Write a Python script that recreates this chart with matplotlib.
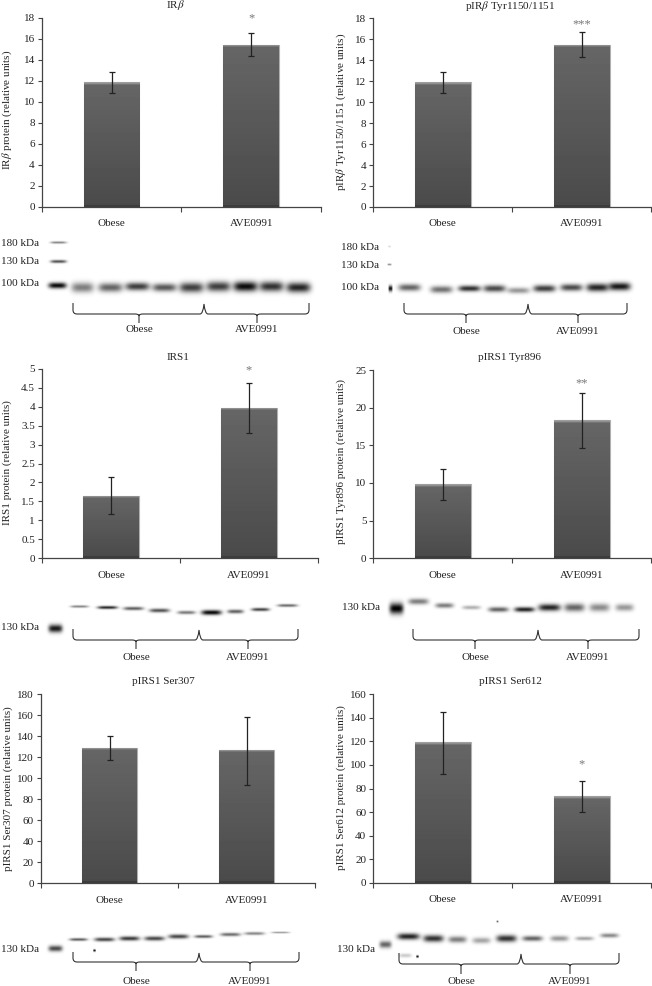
import numpy as np
import matplotlib
matplotlib.use("Agg")
import matplotlib.pyplot as plt
from matplotlib.path import Path
from matplotlib.patches import PathPatch

plt.rcParams['font.family'] = ['Liberation Serif', 'DejaVu Serif']
plt.rcParams['mathtext.fontset'] = 'stix'

W, H = 652, 986
groups = ["Obese", "AVE0991"]

# chart values
titles = ["IR$\\beta$", "pIR$\\beta$ Tyr1150/1151", "IRS1", "pIRS1 Tyr896", "pIRS1 Ser307", "pIRS1 Ser612"]
ylabels = ["IR$\\beta$ protein (relative units)", "pIR$\\beta$ Tyr1150/1151 (relative units)",
           "IRS1 protein (relative units)", "pIRS1 Tyr896 protein (relative units)",
           "pIRS1 Ser307 protein (relative units)", "pIRS1 Ser612 protein (relative units)"]
means = [[11.85, 15.45], [11.9, 15.5], [1.65, 3.97], [9.8, 18.3], [129, 127], [119, 73.5]]
err_hi = [[12.8, 16.55], [12.85, 16.65], [2.13, 4.62], [11.9, 21.9], [140, 158], [145, 86]]
err_lo = [[10.85, 14.35], [10.85, 14.3], [1.17, 3.32], [7.7, 14.7], [117, 94], [92, 60.5]]
ymax = [18, 18, 5, 25, 180, 160]
ystep = [2, 2, 0.5, 5, 20, 20]
stars = [[None, "*"], [None, "***"], [None, "*"], [None, "**"], [None, None], [None, "*"]]
star_y = [17.9, 17.4, 4.97, 23.2, 0, 100.7]

# layout in pixels: left, right, top, bottom of each bar panel
boxes = [(41.7, 321, 17.7, 207), (373.3, 651.3, 18.3, 207),
         (42, 318, 369, 558), (373.3, 651.3, 370, 558.3),
         (41, 315, 694.3, 883.3), (373.3, 651.3, 694, 883)]
title_pos = [(175, 5), (510, 6), (178, 357), (509, 357), (163, 682), (510, 682)]
ylabel_pos = [(7.5, 110), (341, 112), (7, 463), (341, 462), (8, 789), (341, 788)]

# blot bands: x, y, half width, half height, darkness
bands = [
    [(58, 242, 8, 1.2, .45), (58, 261, 8, 1.6, .65), (57, 285, 9, 3, .95),
     (82, 287, 11, 5, .5), (110, 287, 12, 4.5, .6), (137, 286, 12, 4, .75), (164, 287, 12, 4, .65),
     (191, 287, 12, 5, .75), (218, 286, 12, 5, .75), (245, 286, 12, 5, .95), (271, 286, 12, 5, .8), (298, 287, 12, 5, .85)],
    [(389, 246, 1.2, 1, .15), (389, 264, 2, 1, .4), (390, 288, 2, 3, .9),
     (409, 287, 11, 3.5, .6), (441, 289, 11, 3.5, .55), (469, 288, 11, 3, .8), (494, 288, 11, 3.5, .7),
     (518, 290, 11, 3, .4), (544, 288, 11, 3.5, .75), (571, 287, 11, 3.5, .7), (597, 287, 11, 4, .85), (619, 286, 11, 4, .9)],
    [(55, 628, 7, 4, .9),
     (79, 606, 9, 1.3, .45), (107, 607, 10, 1.6, .8), (133, 608, 10, 1.8, .6), (159, 610, 10, 2, .65),
     (186, 612, 9, 1.8, .5), (211, 612, 10, 2.5, .95), (235, 611, 8, 2, .6), (260, 609, 9, 1.7, .7), (287, 605, 10, 1.5, .55)],
    [(396, 608, 7, 5.5, 1),
     (418, 601, 10, 3, .5), (444, 605, 9, 2.5, .5), (471, 607, 9, 2, .3), (498, 609, 10, 2.5, .6),
     (524, 609, 10, 2.5, .85), (549, 607, 11, 3.5, .85), (574, 607, 10, 4, .6), (599, 607, 10, 4, .45), (624, 607, 9, 3.5, .4)],
    [(55, 948, 7, 3, .7),
     (78, 939, 9, 1.5, .6), (104, 939, 10, 2, .7), (129, 938, 10, 2.2, .75), (154, 938, 10, 2.2, .7),
     (178, 936, 10, 2.2, .7), (203, 936, 9, 1.6, .6), (230, 934, 10, 1.8, .55), (254, 933, 10, 1.6, .45), (280, 932, 9, 1, .35),
     (94, 950, 1.2, 1.2, .9)],
    [(385, 944, 6, 3.5, .6),
     (408, 936, 11, 3.2, .85), (433, 938, 10, 3.5, .8), (457, 939, 9, 3.2, .5), (481, 940, 9, 3, .35),
     (506, 938, 10, 3.5, .8), (532, 938, 10, 2.6, .6), (559, 938, 9, 2.8, .4), (584, 938, 9, 2, .35), (609, 935, 9, 2.2, .45),
     (417, 956, 1.2, 1.2, .9), (405, 955, 6, 2, .2), (497, 921, 1, 1, .6)],
]

# braces: left, join, right, end y, line y, tip y, first tip x, second tip x, label y
braces = [(73, 204, 309, 303, 314, 323, 139, 257, 330),
          (404, 528, 627, 303, 314, 323, 466, 578, 332),
          (73, 199, 298, 629, 640, 649, 136, 248, 657),
          (413, 538, 639, 629, 640, 649, 475, 588, 657),
          (73, 199, 299, 952, 962, 971, 136, 250, 982),
          (399, 521, 619, 953, 964, 974, 461, 570, 982)]

# kDa labels: text, right edge x, y
kda = [("180 kDa", 39, 244), ("130 kDa", 39, 262), ("100 kDa", 39, 284),
       ("180 kDa", 379, 247), ("130 kDa", 379, 265), ("100 kDa", 379, 287),
       ("130 kDa", 39, 627), ("130 kDa", 380, 608), ("130 kDa", 39, 949), ("130 kDa", 375, 949)]

fig = plt.figure(figsize=(W / 100, H / 100), dpi=100)

# background layer in pixel coordinates, holds the blots and the text around them
bg = fig.add_axes([0, 0, 1, 1])
yy, xx = np.mgrid[0:H, 0:W]
blot = np.ones((H, W))
for panel in bands:
    for x, y, w, h, d in panel:
        blot *= 1 - d * np.exp(-(np.abs(xx - x) / w) ** 4 - ((yy - y) / h) ** 2)
bg.imshow(blot, cmap='gray', vmin=0, vmax=1, extent=(0, W, H, 0), aspect='auto', interpolation='bilinear')
bg.set_xlim(0, W)
bg.set_ylim(H, 0)
bg.axis('off')

def draw_brace(left, join, right, y0, y1, y2, tip1, tip2, label_y):
    r = 4
    verts = [(left, y0), (left, y1 - r), (left, y1), (left + r, y1), (tip1 - r, y1),
             (tip1, y1), (tip1, y1 + 2), (tip1, y2)]
    codes = [Path.MOVETO, Path.LINETO, Path.CURVE3, Path.CURVE3, Path.LINETO,
             Path.CURVE3, Path.CURVE3, Path.LINETO]
    verts += [(tip1, y1 + 2), (tip1, y1), (tip1 + r, y1), (join - r, y1), (join - 1, y1), (join, y0 + 1)]
    codes += [Path.MOVETO, Path.CURVE3, Path.CURVE3, Path.LINETO, Path.CURVE3, Path.CURVE3]
    verts += [(join + 1, y1), (join + r, y1), (tip2 - r, y1), (tip2, y1), (tip2, y1 + 2), (tip2, y2)]
    codes += [Path.CURVE3, Path.CURVE3, Path.LINETO, Path.CURVE3, Path.CURVE3, Path.LINETO]
    verts += [(tip2, y1 + 2), (tip2, y1), (tip2 + r, y1), (right - r, y1), (right, y1), (right, y1 - r), (right, y0)]
    codes += [Path.MOVETO, Path.CURVE3, Path.CURVE3, Path.LINETO, Path.CURVE3, Path.CURVE3, Path.LINETO]
    bg.add_patch(PathPatch(Path(verts, codes), fill=False, edgecolor='#333333', lw=0.8))
    bg.text(tip1, label_y, groups[0], ha='center', va='center', fontsize=8, color='#222222')
    bg.text(tip2, label_y, groups[1], ha='center', va='center', fontsize=8, color='#222222')

for b in braces:
    draw_brace(*b)

for txt, x, y in kda:
    bg.text(x, y, txt, ha='right', va='center', fontsize=8, color='#222222')

for (x, y), t in zip(title_pos, titles):
    bg.text(x, y, t, ha='center', va='center', fontsize=8, color='#222222')
for (x, y), t in zip(ylabel_pos, ylabels):
    bg.text(x, y, t, ha='center', va='center', rotation=90, fontsize=8, color='#222222')

def shade(n_px):
    # vertical shading of a bar, light strip on top and dark foot
    n = max(int(n_px), 4)
    col = np.linspace(0.40, 0.29, n)
    col[:3] = [0.62, 0.56, 0.46]
    col[-2:] = 0.24
    return col.reshape(-1, 1)

for i in range(6):
    left, right, top, bottom = boxes[i]
    ax = fig.add_axes([left / W, 1 - bottom / H, (right - left) / W, (bottom - top) / H])
    ax.patch.set_alpha(0)
    xs = np.arange(len(groups))
    bars = ax.bar(xs, means[i], width=0.4, color='#555555', edgecolor='#b0b0b0', linewidth=0.8, zorder=2)
    for bar in bars:
        px = bar.get_height() / ymax[i] * (bottom - top)
        im = ax.imshow(shade(px), cmap='gray', vmin=0, vmax=1, aspect='auto', interpolation='nearest', zorder=2.5,
                       extent=(bar.get_x(), bar.get_x() + bar.get_width(), 0, bar.get_height()))
        im.set_clip_path(bar)
    lo = np.array(means[i]) - np.array(err_lo[i])
    hi = np.array(err_hi[i]) - np.array(means[i])
    ax.errorbar(xs, means[i], yerr=[lo, hi], fmt='none', ecolor='#222222', elinewidth=0.9,
                capsize=2.2, capthick=0.9, zorder=3)
    for x, s in zip(xs, stars[i]):
        if s:
            ax.text(x, star_y[i], s, ha='center', va='center', fontsize=9, color='#777777', zorder=3)
    ax.set_xlim(-0.5, 1.5)
    ax.set_ylim(0, ymax[i])
    ax.set_yticks(np.arange(0, ymax[i] + ystep[i] / 2, ystep[i]))
    if ystep[i] == 0.5:
        ax.set_yticklabels(["%g" % v for v in np.arange(0, ymax[i] + ystep[i] / 2, ystep[i])])
    ax.set_xticks([-0.5, 0.5, 1.5])
    ax.set_xticklabels([])
    ax.set_xticks(xs, groups, minor=True)
    ax.tick_params(axis='x', which='minor', length=0, pad=9, labelsize=8, labelcolor='#222222')
    ax.tick_params(axis='x', which='major', length=3.5, width=0.8, color='#444444')
    ax.tick_params(axis='y', length=3, width=0.8, color='#444444', pad=2, labelsize=8, labelcolor='#222222')
    for side in ['top', 'right']:
        ax.spines[side].set_visible(False)
    for side in ['left', 'bottom']:
        ax.spines[side].set_color('#444444')
        ax.spines[side].set_linewidth(0.9)

fig.savefig("out.png", dpi=100)
